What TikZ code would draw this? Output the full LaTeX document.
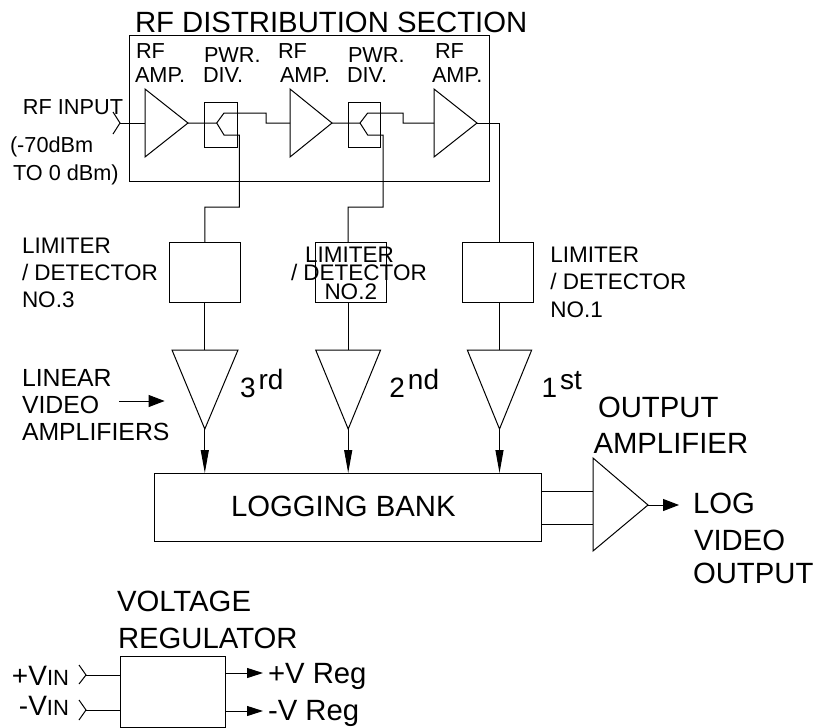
\documentclass[tikz,border=0pt]{standalone}
\usepackage{fontspec}
\setmainfont{Liberation Sans}
\usetikzlibrary{arrows.meta,calc}
\tikzset{
 wire/.style={line width=1pt,black},
 boxn/.style={draw,line width=1pt,inner sep=0pt,outer sep=0pt},
 txt/.style={anchor=base west,inner sep=0pt,outer sep=0pt},
 small/.style={txt,font=\fontsize{21.7}{22}\selectfont},
 mid/.style={txt,font=\fontsize{22.5}{23}\selectfont},
 lin/.style={txt,font=\fontsize{24.8}{25}\selectfont},
 big/.style={txt,font=\fontsize{29.3}{30}\selectfont},
 ordn/.style={txt,font=\fontsize{28}{29}\selectfont},
 tipdown/.style={-{Triangle[length=23pt,width=8pt]}},
 tipright/.style={-{Triangle[length=16pt,width=12pt]}},
}
\newcommand{\supr}[2]{#1\hspace{3pt}\raisebox{8pt}{#2}}
\begin{document}
\begin{tikzpicture}[x=1pt,y=-1pt,wire]
\path[use as bounding box,fill=white] (0,0) rectangle (814,728);
% boxes
\node[boxn,minimum width=360pt,minimum height=146pt] (rfbox) at (309,108) {};
\node[boxn,minimum width=33pt,minimum height=45pt] (div1) at (220.5,124.5) {};
\node[boxn,minimum width=32pt,minimum height=45pt] (div2) at (364,124.5) {};
\node[boxn,minimum width=71pt,minimum height=60pt] (lim3) at (204.8,272) {};
\node[boxn,minimum width=71pt,minimum height=60pt] (lim2) at (351,272) {};
\node[boxn,minimum width=71pt,minimum height=60pt] (lim1) at (498.4,272) {};
\node[boxn,minimum width=387pt,minimum height=68pt] (bank) at (347.5,507) {};
\node[boxn,minimum width=105pt,minimum height=71pt] (reg) at (172.5,691.5) {};
% RF amps
\coordinate (a1i) at (145,123); \coordinate (a1o) at (188,123);
\coordinate (a2i) at (290,123); \coordinate (a2o) at (332,123);
\coordinate (a3i) at (434,123); \coordinate (a3o) at (477,123);
\draw (145,89) -- (a1o) -- (145,157) -- cycle;
\draw (290,89) -- (a2o) -- (290,157) -- cycle;
\draw (434,89) -- (a3o) -- (434,157) -- cycle;
% video amps
\coordinate (v3i) at (204.8,350); \coordinate (v3o) at (204.8,429);
\coordinate (v2i) at (348.2,350); \coordinate (v2o) at (348.2,429);
\coordinate (v1i) at (499.5,350); \coordinate (v1o) at (499.5,429);
\draw (172,350) -- (v3o) -- (238,350) -- cycle;
\draw (315.7,350) -- (v2o) -- (380.6,350) -- cycle;
\draw (467.3,350) -- (v1o) -- (531.7,350) -- cycle;
% output amp
\coordinate (oi1) at (593,491.7); \coordinate (oi2) at (593,524.3); \coordinate (oo) at (648,505);
\draw (593,458) -- (oo) -- (593,551) -- cycle;
% RF chain
\coordinate (chev) at (120,123);
\draw (113,112) -- (chev) -- (113,134);
\draw (chev) -- (a1i);
\coordinate (f1) at (216.7,123); \coordinate (f2) at (360,123);
\coordinate (t2top) at (348.2,242);
\draw (a1o) -- (f1) -- (224,113) -- (266,113) -- (266,123) -- (a2i);
\draw (f1) -- (224,135) -- (239.3,135) -- (239.3,207) -- (204.8,207) -- (lim3.north);
\draw (a2o) -- (f2) -- (367.7,113) -- (403,113) -- (403,123) -- (a3i);
\draw (f2) -- (367.7,135) -- (383,135) -- (383,207) -- (348.2,207) -- (t2top);
\draw (a3o) -- (499,123) -- (499,242);
% limiters to video amps
\draw (lim3.south) -- (v3i);
\draw (lim2.south -| v2i) -- (v2i);
\draw (v1i |- lim1.south) -- (v1i);
% video amps to bank
\draw[tipdown] (v3o) -- (v3o |- bank.north);
\draw[tipdown] (v2o) -- (v2o |- bank.north);
\draw[tipdown] (v1o) -- (v1o |- bank.north);
% bank to output
\draw (bank.east |- oi1) -- (oi1);
\draw (bank.east |- oi2) -- (oi2);
\coordinate (logtip) at (679,505);
\draw[tipright] (oo) -- (logtip);
% linear arrow
\coordinate (la) at (119.4,401); \coordinate (lb) at (164.6,401);
\draw[tipright] (la) -- (lb);
% regulator
\coordinate (c1) at (86,675); \coordinate (c2) at (86,710);
\draw (79,665) -- (c1) -- (79,684);
\draw (79,700) -- (c2) -- (79,720);
\draw (c1) -- (c1 -| reg.west);
\draw (c2) -- (c2 -| reg.west);
\coordinate (r1) at (263,673); \coordinate (r2) at (263,711);
\draw[-{Triangle[length=16pt,width=10pt]}] (r1 -| reg.east) -- (r1);
\draw[-{Triangle[length=16pt,width=10pt]}] (r2 -| reg.east) -- (r2);
% text
\node[big] (t0) at (135,32) {RF DISTRIBUTION SECTION};
\node[small] (t1) at (136,58) {RF};
\node[small] (t2) at (135,82) {AMP.};
\node[small] (t3) at (204,62.5) {PWR.};
\node[small] (t4) at (203,82) {DIV.};
\node[small] (t5) at (278,58) {RF};
\node[small] (t6) at (280,82) {AMP.};
\node[small] (t7) at (348,62.5) {PWR.};
\node[small] (t8) at (347,82) {DIV.};
\node[small] (t9) at (435,58) {RF};
\node[small] (t10) at (432,82) {AMP.};
\node[small] (t11) at (23,114) {RF INPUT};
\node[small] (t12) at (10,152) {(-70dBm};
\node[small] (t13) at (13,180) {TO 0 dBm)};
\node[mid] (l31) at (22,253) {LIMITER};
\node[mid] (l32) at (22,280) {/ DETECTOR};
\node[mid] (l33) at (22,307) {NO.3};
\node[mid] (l21) at (305,262) {LIMITER};
\node[mid] (l22) at (291,280) {/ DETECTOR};
\node[mid] (l23) at (324.5,299) {NO.2};
\node[mid] (l11) at (550.4,262) {LIMITER};
\node[mid] (l12) at (550.4,289) {/ DETECTOR};
\node[mid] (l13) at (550.4,317) {NO.1};
\node[ordn] (o3) at (240,397) {\supr{3}{rd}};
\node[ordn] (o2) at (389.4,397) {\supr{2}{nd}};
\node[ordn] (o1) at (541.5,397) {\supr{1}{st}};
\node[lin] (v1) at (22,386) {LINEAR};
\node[lin] (v2) at (22,413) {VIDEO};
\node[lin] (v3) at (22,440) {AMPLIFIERS};
\node[big] (oa1) at (598,417) {OUTPUT};
\node[big] (oa2) at (593.5,453) {AMPLIFIER};
\node[big] (lb1) at (231,516) {LOGGING BANK};
\node[big] (lo1) at (693,513) {LOG};
\node[big] (lo2) at (694,550) {VIDEO};
\node[big] (lo3) at (693,583) {OUTPUT};
\node[big] (vr1) at (117,611) {VOLTAGE};
\node[big] (vr2) at (118,648) {REGULATOR};
\node[ordn] (vi1) at (12,685) {+V\fontsize{22}{23}\selectfont IN};
\node[ordn] (vi2) at (19,715) {-V\fontsize{22}{23}\selectfont IN};
\node[big] (vo1) at (268,683) {+V Reg};
\node[big] (vo2) at (268,720) {-V Reg};
\end{tikzpicture}
\end{document}
